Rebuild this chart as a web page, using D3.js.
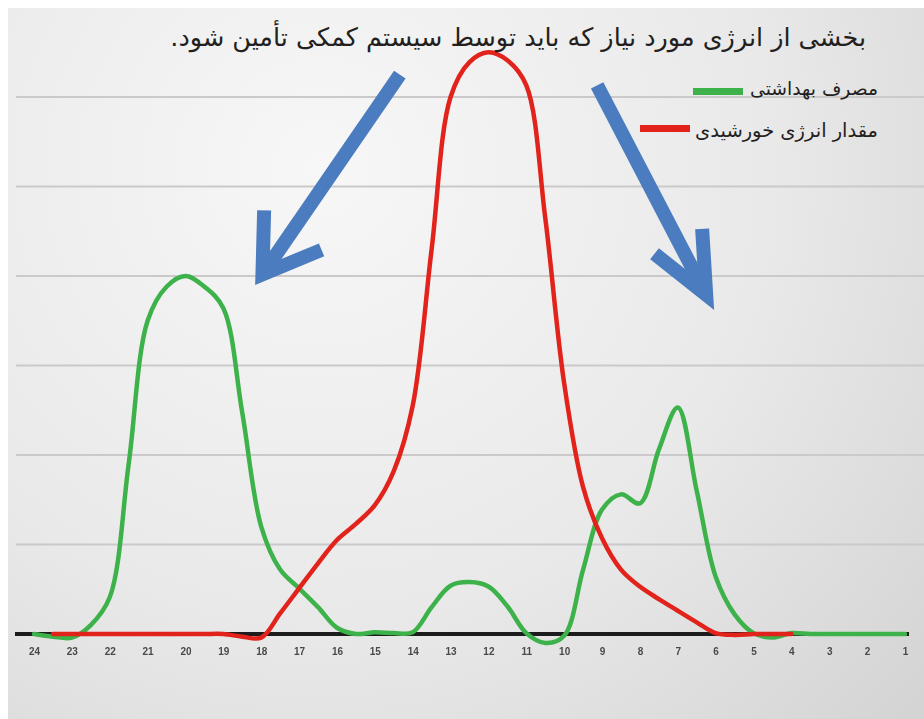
<!DOCTYPE html>
<html lang="fa">
<head>
<meta charset="utf-8">
<script src="https://cdn.jsdelivr.net/npm/d3@7"></script>
<style>
  html, body { margin: 0; padding: 0; background: #ffffff; }
  svg { display: block; }
</style>
</head>
<body>
<svg id="chart" width="924" height="719"></svg>
<script>
// Hour labels along the axis (24 on the left, 1 on the right)
const hourTicks = [24, 23, 22, 21, 20, 19, 18, 17, 16, 15, 14, 13, 12, 11, 10, 9, 8, 7, 6, 5, 4, 3, 2, 1];

// Half-hour sample points for the sanitary hot-water demand curve (green)
const demandHours = [24, 23.5, 23, 22.5, 22, 21.5, 21, 20.5, 20, 19.5, 19, 18.5, 18, 17.5, 17, 16.5, 16, 15.5, 15, 14.5, 14, 13.5, 13, 12.5, 12, 11.5, 11, 10.5, 10, 9.5, 9, 8.5, 8, 7.5, 7, 6.5, 6, 5.5, 5, 4.5, 4, 3.5, 3, 2.5, 2, 1.5, 1];
const demandValues = [0, -0.03, -0.04, 0.1, 0.41, 1.9, 3.5, 3.88, 4.0, 3.88, 3.64, 2.47, 1.2, 0.72, 0.51, 0.3, 0.07, 0.0, 0.02, 0.01, 0.02, 0.3, 0.54, 0.58, 0.53, 0.31, 0.01, -0.1, -0.02, 0.72, 1.39, 1.56, 1.46, 2.06, 2.53, 1.6, 0.64, 0.22, 0.01, -0.04, 0.01, 0, 0, 0, 0, 0, 0];

// Half-hour sample points for the available solar energy curve (red)
const solarHours = [23.5, 23, 22.5, 22, 21.5, 21, 20.5, 20, 19.5, 19, 18.5, 18, 17.5, 17, 16.5, 16, 15.5, 15, 14.5, 14, 13.5, 13, 12.5, 12, 11.5, 11, 10.5, 10, 9.5, 9, 8.5, 8, 7.5, 7, 6.5, 6, 5.5, 5, 4.5, 4];
const solarValues = [0, 0, 0, 0, 0, 0, 0, 0, 0, 0, -0.03, -0.04, 0.23, 0.51, 0.79, 1.05, 1.23, 1.44, 1.82, 2.55, 4.3, 6.0, 6.39, 6.5, 6.41, 6.13, 4.65, 2.8, 1.64, 1.07, 0.72, 0.53, 0.39, 0.26, 0.13, 0.01, -0.01, 0, 0, 0];

const gridLevels = [1, 2, 3, 4, 5, 6];

const titleText = "بخشی از انرژی مورد نیاز که باید توسط سیستم کمکی تأمین شود.";
const legendLabels = ["مصرف بهداشتی", "مقدار انرژی خورشیدی"];

const W = 924, H = 719;
const green = "#3db24a";
const red = "#e2231c";
const blue = "#4a7cbf";

const svg = d3.select("#chart");
const defs = svg.append("defs");

// Soft paper-like background
const bg = defs.append("radialGradient")
  .attr("id", "bg").attr("gradientUnits", "userSpaceOnUse")
  .attr("cx", 320).attr("cy", 170).attr("r", 820);
bg.append("stop").attr("offset", "0%").attr("stop-color", "#f7f7f7");
bg.append("stop").attr("offset", "55%").attr("stop-color", "#e9e9e9");
bg.append("stop").attr("offset", "100%").attr("stop-color", "#d3d3d3");

defs.append("filter").attr("id", "soft")
  .append("feGaussianBlur").attr("stdDeviation", 0.5);

svg.append("rect").attr("width", W).attr("height", H).attr("fill", "#ffffff");
svg.append("rect").attr("x", 8).attr("y", 8).attr("width", W - 8).attr("height", H - 8).attr("fill", "url(#bg)");

// Scales
const x = d3.scaleLinear().domain([24, 1]).range([34, 905]);
const y = d3.scaleLinear().domain([0, 7]).range([634, 7.5]);

// Horizontal grid lines
svg.append("g").selectAll("line").data(gridLevels).join("line")
  .attr("x1", 16).attr("x2", W)
  .attr("y1", d => y(d)).attr("y2", d => y(d))
  .attr("stroke", "#cbc9c9").attr("stroke-width", 2);

// Curves
const line = d3.line()
  .x(d => x(d[0]))
  .y(d => y(d[1]))
  .curve(d3.curveCatmullRom.alpha(0.5));

const demand = d3.zip(demandHours, demandValues);
const solar = d3.zip(solarHours, solarValues);

// Baseline (x axis)
const axis = d3.axisBottom(x).tickValues(hourTicks).tickSize(0).tickPadding(14)
  .tickFormat(d3.format("d"));
const axisG = svg.append("g").attr("transform", `translate(0,${y(0)})`).call(axis);
axisG.select(".domain").remove();
axisG.insert("line", ":first-child")
  .attr("x1", 15).attr("x2", 909).attr("y1", 0).attr("y2", 0)
  .attr("stroke", "#1c1c1c").attr("stroke-width", 4);
axisG.selectAll(".tick text")
  .attr("font-family", "'Liberation Sans', Arial, sans-serif")
  .attr("font-size", 10).attr("font-weight", "bold")
  .attr("fill", "#4a4a4a").attr("filter", "url(#soft)");

svg.append("path").datum(demand)
  .attr("d", line).attr("fill", "none")
  .attr("stroke", green).attr("stroke-width", 4.5)
  .attr("stroke-linejoin", "round").attr("stroke-linecap", "round");

svg.append("path").datum(solar)
  .attr("d", line).attr("fill", "none")
  .attr("stroke", red).attr("stroke-width", 4.5)
  .attr("stroke-linejoin", "round").attr("stroke-linecap", "round");

// Blue pointer arrows toward the demand peaks not covered by solar energy
const arrowWidth = 14;
const arrows = [
  { from: [14.34, 6.25], to: [18.16, 3.9], spread: 33, head: 64 },
  { from: [9.13, 6.13], to: [6.04, 3.62], spread: 24, head: 66 }
];
const ag = svg.append("g").attr("fill", "none").attr("stroke", blue)
  .attr("stroke-width", arrowWidth).attr("stroke-linejoin", "miter")
  .attr("stroke-miterlimit", 10);
arrows.forEach(a => {
  const x0 = x(a.from[0]), y0 = y(a.from[1]);
  const tx = x(a.to[0]), ty = y(a.to[1]);
  const back = Math.atan2(y0 - ty, x0 - tx);
  const s = a.spread * Math.PI / 180;
  // pull the chevron vertex back so the mitred point lands on the tip
  const inset = (arrowWidth / 2) / Math.sin(s);
  const x1 = tx + inset * Math.cos(back), y1 = ty + inset * Math.sin(back);
  const w1 = [x1 + a.head * Math.cos(back - s), y1 + a.head * Math.sin(back - s)];
  const w2 = [x1 + a.head * Math.cos(back + s), y1 + a.head * Math.sin(back + s)];
  const p = d3.path();
  p.moveTo(x0, y0); p.lineTo(x1, y1);
  ag.append("path").attr("d", p.toString()).attr("stroke-linecap", "butt");
  const h = d3.path();
  h.moveTo(w1[0], w1[1]); h.lineTo(x1, y1); h.lineTo(w2[0], w2[1]);
  ag.append("path").attr("d", h.toString()).attr("stroke-linecap", "butt");
});

// Title, right aligned, fitted to its span
const fa = "'DejaVu Sans', 'Noto Sans', sans-serif";
function fitText(sel, width) {
  const len = sel.node().getComputedTextLength();
  const fs = parseFloat(sel.attr("font-size"));
  sel.attr("font-size", fs * width / len);
}
const title = svg.append("text")
  .attr("x", 866).attr("y", 46)
  .attr("direction", "rtl").attr("text-anchor", "start")
  .attr("font-family", fa).attr("font-size", 26).attr("fill", "#231f20")
  .text(titleText);
fitText(title, 696);

// Legend
const legend = [
  { label: legendLabels[0], color: green, textY: 95, swX: 693, swY: 88, textW: 128 },
  { label: legendLabels[1], color: red, textY: 137, swX: 640, swY: 125, textW: 183 }
];
legend.forEach(l => {
  svg.append("rect").attr("x", l.swX).attr("y", l.swY)
    .attr("width", 50).attr("height", 7).attr("fill", l.color);
  const t = svg.append("text")
    .attr("x", 878).attr("y", l.textY)
    .attr("direction", "rtl").attr("text-anchor", "start")
    .attr("font-family", fa).attr("font-size", 17).attr("fill", "#231f20")
    .text(l.label);
  fitText(t, l.textW);
});
</script>
</body>
</html>
